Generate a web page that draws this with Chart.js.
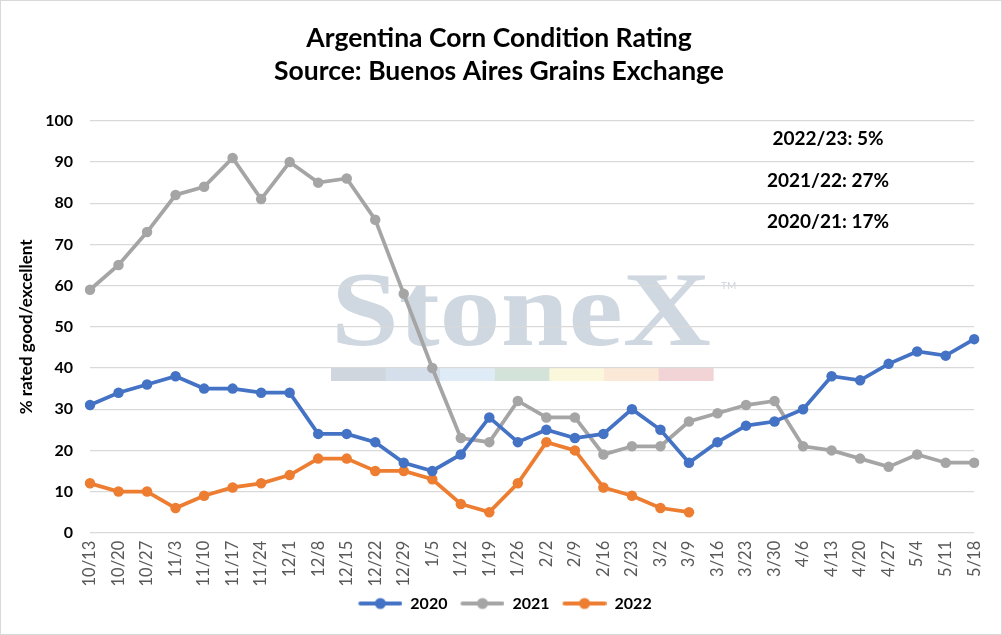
<!DOCTYPE html>
<html>
<head>
<meta charset="utf-8">
<script src="https://cdn.jsdelivr.net/npm/chart.js@4/dist/chart.umd.min.js"></script>
<style>
  html, body { margin: 0; padding: 0; background: #fff; }
  #wrap { width: 1002px; height: 635px; position: relative; }
</style>
</head>
<body>
<div id="wrap"><canvas id="c"></canvas></div>
<script>
const categories = ["10/13","10/20","10/27","11/3","11/10","11/17","11/24","12/1","12/8","12/15","12/22","12/29","1/5","1/12","1/19","1/26","2/2","2/9","2/16","2/23","3/2","3/9","3/16","3/23","3/30","4/6","4/13","4/20","4/27","5/4","5/11","5/18"];
const series2020 = [31,34,36,38,35,35,34,34,24,24,22,17,15,19,28,22,25,23,24,30,25,17,22,26,27,30,38,37,41,44,43,47];
const series2021 = [59,65,73,82,84,91,81,90,85,86,76,58,40,23,22,32,28,28,19,21,21,27,29,31,32,21,20,18,16,19,17,17];
const series2022 = [12,10,10,6,9,11,12,14,18,18,15,15,13,7,5,12,22,20,11,9,6,5];
const seriesNames = ["2020","2021","2022"];
const seriesColors = ["#4472C4","#A5A5A5","#ED7D31"];
const titleLines = ["Argentina Corn Condition Rating","Source: Buenos Aires Grains Exchange"];
const yTitle = "% rated good/excellent";
const notes = ["2022/23: 5%","2021/22: 27%","2020/21: 17%"];
const noteValues = [95.6, 85.4, 75.5];

const FONT = "Lato, 'Open Sans', sans-serif";

function legendIcon(color) {
  const cv = document.createElement('canvas');
  cv.width = 56; cv.height = 14;
  const g = cv.getContext('2d');
  g.strokeStyle = color; g.lineWidth = 4; g.lineCap = 'round';
  g.beginPath(); g.moveTo(14, 7); g.lineTo(54, 7); g.stroke();
  g.fillStyle = color; g.beginPath(); g.arc(34, 7, 5.5, 0, Math.PI * 2); g.fill();
  return cv;
}
const icons = seriesColors.map(legendIcon);

const watermark = {
  id: 'watermark',
  beforeDraw(chart) {
    const ctx = chart.ctx;
    ctx.save();
    const barColors = ["#cfd6de","#d4dfeb","#dfebf6","#d4e3da","#fbf7dc","#fce8d6","#f2d4d7"];
    const x0 = 331, w = 54.6;
    barColors.forEach((c, i) => { ctx.fillStyle = c; ctx.fillRect(x0 + i * w, 368, w + 0.5, 13); });
    ctx.font = "bold 106px 'Liberation Serif', 'DejaVu Serif', serif";
    ctx.fillStyle = "#cfd7e0";
    ctx.textBaseline = 'alphabetic';
    const tw = ctx.measureText("StoneX").width;
    const sx = 380 / tw;
    ctx.translate(331, 345);
    ctx.scale(sx, 1);
    ctx.fillText("StoneX", 0, 0);
    ctx.restore();
    ctx.save();
    ctx.font = "10px " + FONT;
    ctx.fillStyle = "#cdd5df";
    ctx.textBaseline = 'middle';
    ctx.fillText("TM", 721, 286);
    ctx.restore();
  }
};

const extras = {
  id: 'extras',
  afterDraw(chart) {
    const ctx = chart.ctx;
    const y = chart.scales.y;
    ctx.save();
    ctx.font = "bold 19px " + FONT;
    ctx.fillStyle = "#000";
    ctx.textAlign = 'center';
    ctx.textBaseline = 'middle';
    notes.forEach((t, i) => ctx.fillText(t, 828, y.getPixelForValue(noteValues[i])));
    ctx.strokeStyle = "#d9d9d9";
    ctx.lineWidth = 1;
    ctx.strokeRect(0.5, 0.5, chart.width - 1, chart.height - 1);
    ctx.restore();
  }
};

function mkDataset(i, data) {
  return {
    label: seriesNames[i],
    data: data,
    borderColor: seriesColors[i],
    backgroundColor: seriesColors[i],
    borderWidth: 3.75,
    pointRadius: 5.25,
    pointHoverRadius: 5.25,
    pointBorderWidth: 0,
    tension: 0,
    fill: false
  };
}

new Chart(document.getElementById('c'), {
  type: 'line',
  data: {
    labels: categories,
    datasets: [mkDataset(0, series2020), mkDataset(1, series2021), mkDataset(2, series2022)]
  },
  plugins: [watermark, extras],
  options: {
    responsive: true,
    maintainAspectRatio: false,
    animation: false,
    layout: { padding: { left: 16, right: 20, top: 0, bottom: 13.5 } },
    plugins: {
      title: {
        display: true,
        text: titleLines,
        color: "#000",
        font: { family: FONT, size: 26.5, weight: 'bold', lineHeight: 1.28 },
        padding: { top: 21, bottom: 32 }
      },
      legend: {
        position: 'bottom',
        labels: {
          usePointStyle: true,
          pointStyleWidth: 56,
          boxHeight: 14,
          padding: 1,
          color: "#000",
          font: { family: FONT, size: 16, weight: 'bold' },
          generateLabels(chart) {
            const items = Chart.defaults.plugins.legend.labels.generateLabels(chart);
            items.forEach((it, i) => { it.pointStyle = icons[i]; });
            return items;
          }
        }
      },
      tooltip: { enabled: false }
    },
    scales: {
      x: {
        offset: false,
        grid: { display: false, drawTicks: false },
        border: { display: false },
        ticks: {
          autoSkip: false,
          minRotation: 90,
          maxRotation: 90,
          padding: 8,
          color: "#595959",
          font: { family: FONT, size: 16.5 }
        }
      },
      y: {
        min: 0,
        max: 100,
        afterFit(s) { s.width = 74; },
        grid: { color: "#d9d9d9", lineWidth: 1.3, drawTicks: false },
        border: { display: false },
        ticks: {
          stepSize: 10,
          padding: 17,
          color: "#000",
          font: { family: FONT, size: 16, weight: 'bold' }
        },
        title: {
          display: true,
          text: yTitle,
          color: "#000",
          font: { family: FONT, size: 17, weight: 'bold', lineHeight: 1.2 },
          padding: { top: 0, bottom: 0 }
        }
      }
    }
  }
});
</script>
</body>
</html>
